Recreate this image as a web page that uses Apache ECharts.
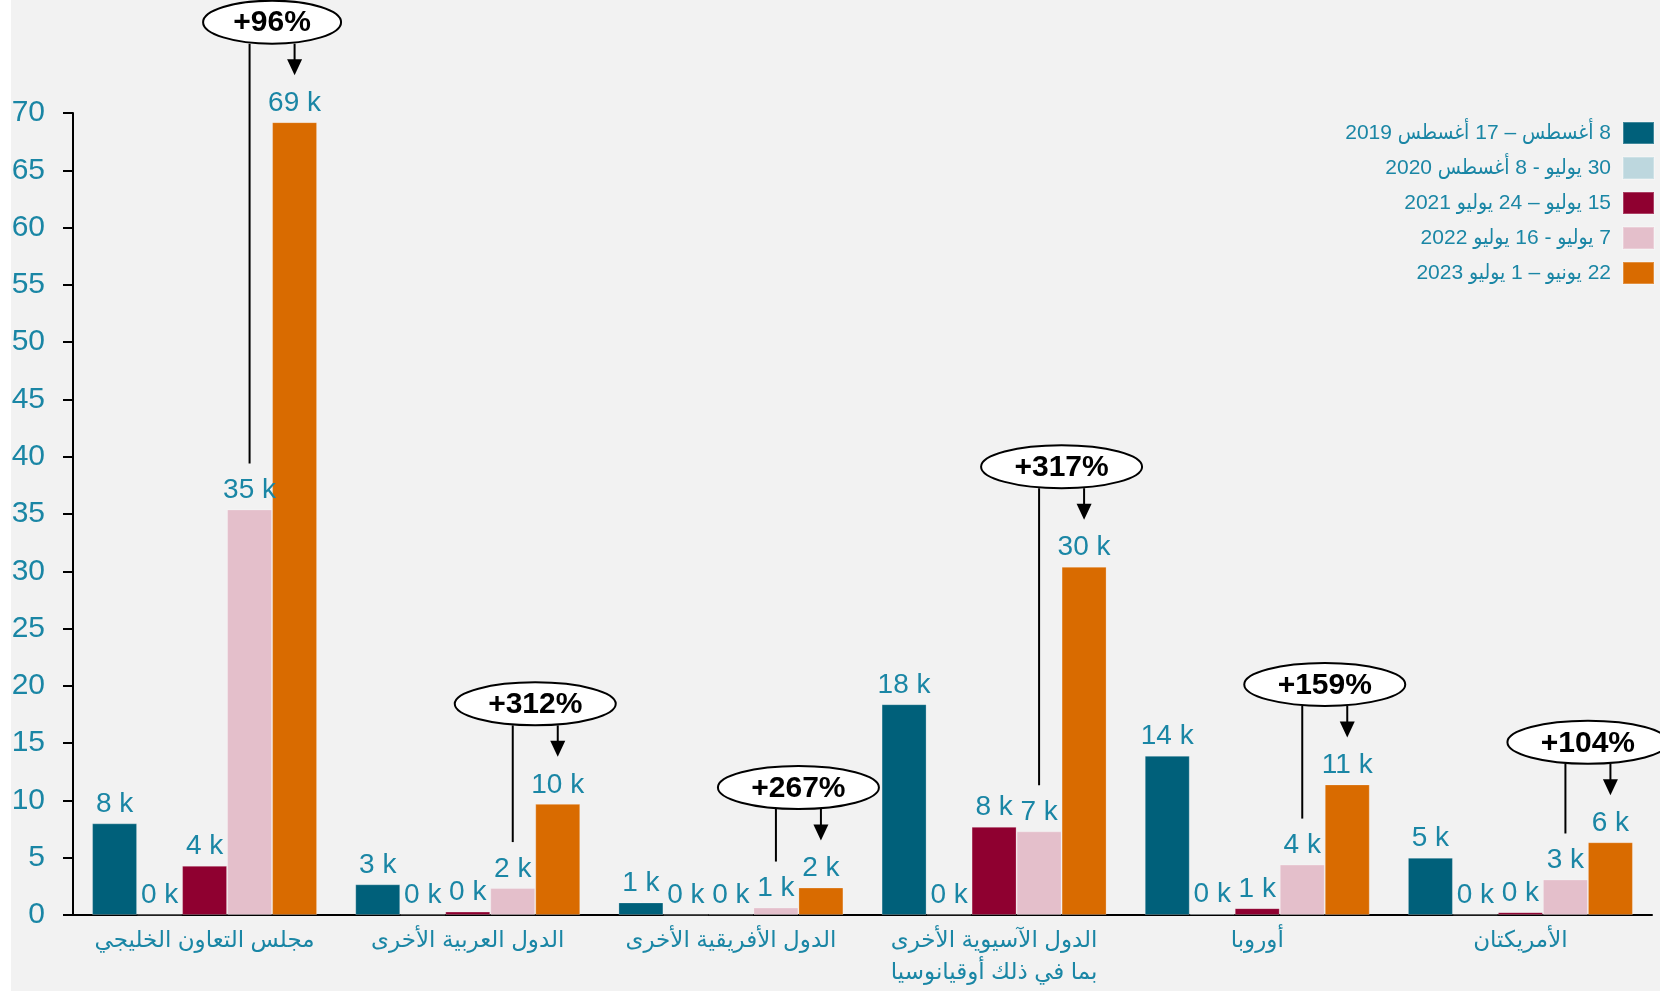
<!DOCTYPE html>
<html>
<head>
<meta charset="utf-8">
<script src="https://cdn.jsdelivr.net/npm/echarts@6/dist/echarts.min.js"></script>
<style>
  html, body { margin: 0; padding: 0; background: #ffffff; }
  #chart { width: 1660px; height: 991px; background: linear-gradient(to right, #ffffff 0px, #ffffff 11px, #f2f2f2 11px); }
</style>
</head>
<body>
<div id="chart"></div>
<script>
// ---------- data ----------
const categories = [
  'مجلس التعاون الخليجي',
  'الدول العربية الأخرى',
  'الدول الأفريقية الأخرى',
  'الدول الآسيوية الأخرى\nبما في ذلك أوقيانوسيا',
  'أوروبا',
  'الأمريكتان'
];
const seriesNames = [
  '8 أغسطس – 17 أغسطس 2019',
  '30 يوليو - 8 أغسطس 2020',
  '15 يوليو – 24 يوليو 2021',
  '7 يوليو - 16 يوليو 2022',
  '22 يونيو – 1 يوليو 2023'
];
// values in thousands
const v2019 = [8.0, 2.68, 1.1, 18.4, 13.9, 5.0];
const v2020 = [0.04, 0.05, 0.03, 0.06, 0.12, 0.05];
const v2021 = [4.3, 0.3, 0.05, 7.7, 0.6, 0.25];
const v2022 = [35.4, 2.35, 0.65, 7.3, 4.4, 3.1];
const v2023 = [69.2, 9.7, 2.4, 30.4, 11.4, 6.35];
const changeLabels = ['+96%', '+312%', '+267%', '+317%', '+159%', '+104%'];
const yMin = 0, yMax = 70, yStep = 5;

// ---------- style ----------
const colors = ['#00607a', '#bdd7de', '#8f0030', '#e4bfcb', '#d96b00'];
const teal = '#1a86a5';
const FONT = "'Liberation Sans', Arial, 'DejaVu Sans', sans-serif";
const LEG_FONT = "'Liberation Sans', Arial, 'DejaVu Sans Condensed', 'DejaVu Sans', sans-serif";
const CAT_GAP = 0.145;
const rtl = s => '\u202B' + s + '\u202C';

const valuesBySeries = [v2019, v2020, v2021, v2022, v2023];
const barSeries = valuesBySeries.map((vals, i) => ({
  name: rtl(seriesNames[i]),
  type: 'bar',
  data: vals,
  barGap: '0%',
  barCategoryGap: (CAT_GAP * 100) + '%',
  itemStyle: { color: colors[i], borderColor: 'rgba(255,255,255,0.25)', borderWidth: 1 },
  label: {
    show: true,
    position: 'top',
    distance: 5,
    color: teal,
    fontFamily: FONT,
    fontSize: 28,
    formatter: p => Math.round(p.value) + ' k'
  },
  z: 2
}));

const annotData = categories.map((c, i) => [i, v2022[i], v2023[i], changeLabels[i]]);

const annotSeries = {
  type: 'custom',
  coordinateSystem: 'cartesian2d',
  clip: false,
  silent: true,
  z: 5,
  encode: { x: 0, y: 2 },
  data: annotData,
  renderItem: function (params, api) {
    const ci = api.value(0);
    const pv = api.value(1);
    const ov = api.value(2);
    const txt = annotData[params.dataIndex][3];
    const band = api.size([1, 0])[0];
    const bw = band * (1 - CAT_GAP) / 5;
    const cx = api.coord([ci, 0])[0];
    const pinkX = cx + bw;
    const orX = cx + 2 * bw;
    const ellX = cx + 1.5 * bw;
    const pinkTop = api.coord([ci, pv])[1];
    const orTop = api.coord([ci, ov])[1];
    const ellY = orTop - 100;
    const ry = 21.5;
    const rx = txt.length <= 4 ? 69 : 80.5;
    const lineStyle = { stroke: '#000', lineWidth: 2 };
    return {
      type: 'group',
      children: [
        { type: 'line', shape: { x1: pinkX, y1: ellY + ry, x2: pinkX, y2: pinkTop - 46 }, style: lineStyle },
        { type: 'line', shape: { x1: orX, y1: ellY + ry, x2: orX, y2: orTop - 62 }, style: lineStyle },
        { type: 'polygon', shape: { points: [[orX - 7.5, orTop - 63], [orX + 7.5, orTop - 63], [orX, orTop - 47]] }, style: { fill: '#000' } },
        { type: 'ellipse', shape: { cx: ellX, cy: ellY, rx: rx, ry: ry }, style: { fill: '#fff', stroke: '#000', lineWidth: 2 } },
        { type: 'text', style: { x: ellX, y: ellY + 1, text: txt, fill: '#000', font: "bold 30px " + FONT, align: 'center', verticalAlign: 'middle' } }
      ]
    };
  }
};

const chart = echarts.init(document.getElementById('chart'), null, { renderer: 'canvas' });
chart.setOption({
  backgroundColor: 'transparent',
  animation: false,
  textStyle: { fontFamily: FONT },
  grid: { left: 73, right: 8, top: 113, bottom: 76, containLabel: false },
  legend: {
    data: seriesNames.map(rtl),
    orient: 'vertical',
    right: 0,
    top: 116,
    align: 'right',
    itemWidth: 31,
    itemHeight: 22,
    itemGap: 11,
    icon: 'rect',
    textStyle: { color: teal, fontSize: 21, fontFamily: LEG_FONT, padding: [0, 7, 0, 0] }
  },
  xAxis: {
    type: 'category',
    data: categories,
    axisLine: { show: true, lineStyle: { color: '#000', width: 2 } },
    axisTick: { show: false },
    axisLabel: { color: teal, fontSize: 23, lineHeight: 32, margin: 10, fontFamily: FONT, interval: 0 }
  },
  yAxis: {
    type: 'value',
    min: yMin,
    max: yMax,
    interval: yStep,
    axisLine: { show: true, lineStyle: { color: '#000', width: 2 } },
    axisTick: { show: true, length: 10, lineStyle: { color: '#000', width: 2 } },
    splitLine: { show: false },
    axisLabel: { color: teal, fontSize: 30, margin: 28, fontFamily: FONT }
  },
  series: barSeries.concat([annotSeries])
});
</script>
</body>
</html>
